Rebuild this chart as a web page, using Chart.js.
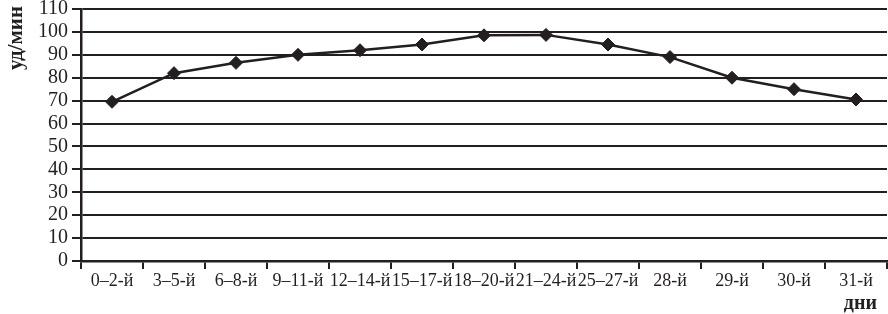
<!DOCTYPE html>
<html>
<head>
<meta charset="utf-8">
<script src="https://cdn.jsdelivr.net/npm/chart.js@4/dist/chart.umd.min.js"></script>
<style>
html,body{margin:0;padding:0;background:#fff;}
#wrap{width:888px;height:314px;position:relative;}
</style>
</head>
<body>
<div id="wrap"><canvas id="c" width="888" height="314"></canvas></div>
<script>
const categories = ["0–2-й","3–5-й","6–8-й","9–11-й","12–14-й","15–17-й","18–20-й","21–24-й","25–27-й","28-й","29-й","30-й","31-й"];
const pulse = [69.5, 82, 86.5, 90, 92, 94.5, 98.5, 98.7, 94.5, 89, 80, 75, 70.5];
const yTicks = [0,10,20,30,40,50,60,70,80,90,100,110];
const yTitle = "уд/мин";
const xTitle = "дни";

const INK = '#231f20';
const serif = "'Liberation Serif','DejaVu Serif',serif";

const titles = {
  id: 'titles',
  afterDraw(chart) {
    const ctx = chart.ctx;
    ctx.save();
    ctx.fillStyle = INK;
    ctx.font = "bold 20px " + serif;
    ctx.textAlign = 'right';
    ctx.textBaseline = 'alphabetic';
    ctx.fillText(xTitle, 877, 309);
    ctx.translate(22, 38);
    ctx.rotate(-Math.PI/2);
    ctx.textAlign = 'center';
    ctx.textBaseline = 'alphabetic';
    ctx.font = "bold 21px " + serif;
    ctx.fillText(yTitle, 0, 0);
    ctx.restore();
  }
};

new Chart(document.getElementById('c'), {
  type: 'line',
  data: {
    labels: categories,
    datasets: [{
      data: pulse,
      borderColor: INK,
      backgroundColor: INK,
      borderWidth: 2.5,
      tension: 0,
      pointStyle: 'rectRot',
      pointRadius: 6.5,
      pointBorderWidth: 1,
      pointBackgroundColor: INK,
      pointBorderColor: INK
    }]
  },
  options: {
    responsive: false,
    animation: false,
    layout: { autoPadding: false, padding: { top: 0, right: 1, left: 0, bottom: 0 } },
    plugins: { legend: { display: false }, tooltip: { enabled: false } },
    scales: {
      x: {
        type: 'category',
        offset: true,
        grid: { display: true, drawOnChartArea: false, drawTicks: true, tickLength: 8, offset: true, color: INK, lineWidth: 2 },
        border: { display: true, color: INK, width: 2.5 },
        ticks: { color: INK, font: { family: serif, size: 18 }, maxRotation: 0, minRotation: 0, autoSkip: false, padding: 1 },
        afterFit(s) { s.height = 53; s.paddingRight = 0; s.paddingLeft = 0; }
      },
      y: {
        min: 0, max: 110,
        afterBuildTicks(s) { s.ticks = yTicks.map(v => ({ value: v })); },
        grid: { color: INK, lineWidth: 2, tickLength: 9, drawTicks: true },
        border: { display: true, color: INK, width: 2.5 },
        ticks: { color: INK, font: { family: serif, size: 20, lineHeight: 0.9 }, padding: 4, autoSkip: false },
        afterFit(s) { s.width = 81; s.paddingTop = 9; s.paddingBottom = 0; }
      }
    }
  },
  plugins: [titles]
});
</script>
</body>
</html>
